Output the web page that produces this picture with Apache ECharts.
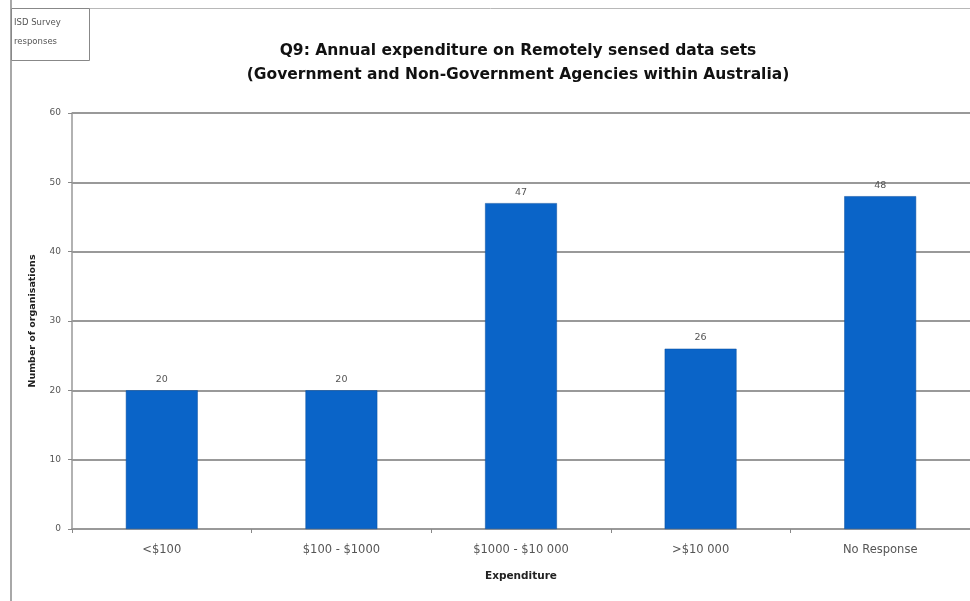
<!DOCTYPE html>
<html>
<head>
<meta charset="utf-8">
<script src="https://cdn.jsdelivr.net/npm/echarts@6/dist/echarts.min.js"></script>
<style>html,body{margin:0;padding:0;background:#fff;}#c{width:970px;height:601px;}</style>
</head>
<body>
<div id="c"></div>
<script>
const categories = ['<$100', '$100 - $1000', '$1000 - $10 000', '>$10 000', 'No Response'];
const counts = [20, 20, 47, 26, 48];
const yTicks = [0, 10, 20, 30, 40, 50, 60];
const titleLines = ['Q9: Annual expenditure on Remotely sensed data sets', '(Government and Non-Government Agencies within Australia)'];
const boxLines = ['ISD Survey', 'responses'];

const FF = "'DejaVu Sans', Verdana, sans-serif";
const chart = echarts.init(document.getElementById('c'), null, {renderer: 'canvas'});
chart.setOption({
  animation: false,
  backgroundColor: '#fff',
  title: {
    text: titleLines.join('\n'),
    left: 513, top: 34, textAlign: 'center',
    textStyle: {fontFamily: FF, fontWeight: 'bold', fontSize: 15.5, color: '#111', lineHeight: 24}
  },
  graphic: [
    {type: 'line', shape: {x1: 11, y1: 0, x2: 11, y2: 601}, style: {stroke: '#a8a8a8', lineWidth: 2}},
    {type: 'line', shape: {x1: 11, y1: 8.5, x2: 970, y2: 8.5}, style: {stroke: '#b8b8b8', lineWidth: 1}},
    {type: 'rect', shape: {x: 11.5, y: 8.5, width: 78, height: 52}, style: {fill: '#fff', stroke: '#888', lineWidth: 1}},
    {type: 'text', left: 14, top: 13, style: {text: boxLines.join('\n'), fontFamily: FF, fontSize: 8.5, lineHeight: 19, fill: '#555'}}
  ],
  grid: {left: 72, top: 113, width: 905, bottom: 72, containLabel: false},
  xAxis: {
    type: 'category',
    data: categories,
    name: 'Expenditure',
    nameLocation: 'middle',
    nameGap: 42,
    nameTextStyle: {fontFamily: FF, fontWeight: 'bold', fontSize: 10.5, color: '#222'},
    axisLine: {lineStyle: {color: '#999', width: 2}},
    axisTick: {show: true, length: 4, lineStyle: {color: '#888'}},
    axisLabel: {margin: 15, fontFamily: FF, fontSize: 11.5, color: '#555'}
  },
  yAxis: {
    type: 'value',
    min: 0, max: 60, interval: 10,
    name: 'Number of organisations',
    nameLocation: 'middle',
    nameGap: 34,
    nameRotate: 90,
    nameTextStyle: {fontFamily: FF, fontWeight: 'bold', fontSize: 9.5, color: '#222'},
    axisLine: {show: true, lineStyle: {color: '#999', width: 1.5}},
    axisTick: {show: true, length: 4, lineStyle: {color: '#888'}},
    axisLabel: {margin: 11, fontFamily: FF, fontSize: 9, color: '#555',
      formatter: v => yTicks.includes(v) ? String(v) : ''},
    splitLine: {show: true, lineStyle: {color: '#999', width: 2}}
  },
  series: [{
    type: 'bar',
    data: counts,
    barWidth: '40%',
    itemStyle: {color: '#0a64c8', borderColor: '#0b4f9e', borderWidth: 0.5},
    label: {show: true, position: 'top', distance: 6, fontFamily: FF, fontSize: 9.5, color: '#555'}
  }]
});
</script>
</body>
</html>
